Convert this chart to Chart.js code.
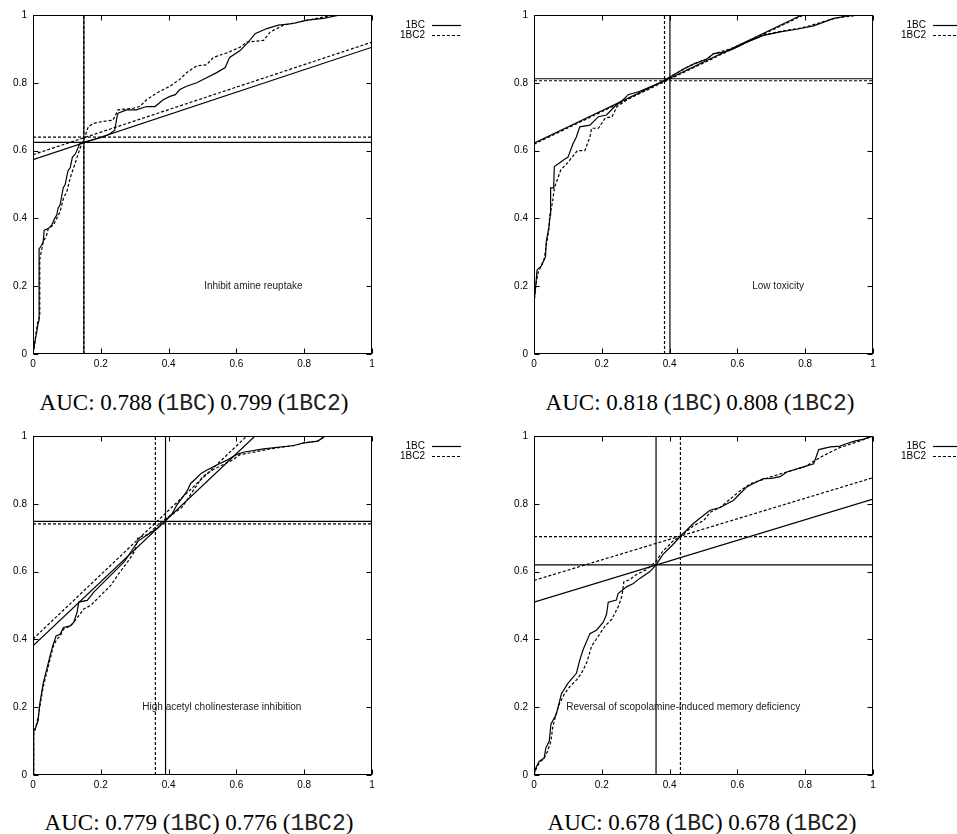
<!DOCTYPE html>
<html>
<head>
<meta charset="utf-8">
<script src="https://cdn.jsdelivr.net/npm/chart.js@4.4.1/dist/chart.umd.min.js"></script>
<style>
  html, body { margin: 0; padding: 0; background: #fff; }
  body { width: 957px; height: 834px; overflow: hidden; position: relative; }
  canvas { position: absolute; }
  .cap { position: absolute; width: 420px; text-align: center; font-family: "Liberation Serif", "Times New Roman", serif; font-size: 23px; line-height: 23px; color: #000; white-space: nowrap; }
  .cap .m { font-family: "Liberation Mono", "Courier New", monospace; color: #222; }
</style>
</head>
<body>
<canvas id="c0" width="480" height="380" style="left:0px;top:0px"></canvas>
<canvas id="c1" width="456" height="380" style="left:501px;top:0px"></canvas>
<canvas id="c2" width="480" height="380" style="left:0px;top:421px"></canvas>
<canvas id="c3" width="456" height="380" style="left:501px;top:421px"></canvas>
<div id="cap0" class="cap" style="left:-16px;top:391px"></div>
<div id="cap1" class="cap" style="left:490px;top:391px"></div>
<div id="cap2" class="cap" style="left:-11px;top:811px"></div>
<div id="cap3" class="cap" style="left:492px;top:811px"></div>
<script>
// ---------- DATA ----------
const tickValues = [0, 0.2, 0.4, 0.6, 0.8, 1];
const tickLabels = ['0', '0.2', '0.4', '0.6', '0.8', '1'];
const seriesNames = ['1BC', '1BC2'];
const panelTitles = ['Inhibit amine reuptake', 'Low toxicity', 'High acetyl cholinesterase inhibition', 'Reversal of scopolamine-induced memory deficiency'];
const aucBC  = ['0.788', '0.818', '0.779', '0.678'];
const aucBC2 = ['0.799', '0.808', '0.776', '0.678'];
const labelFpr = [0.65, 0.72, 0.557, 0.44];
const labelTpr = [0.2, 0.2, 0.2, 0.2];

// Panel 1: Inhibit amine reuptake
const p1FprBC  = [0, 0.003, 0.008, 0.012, 0.015, 0.018, 0.018, 0.025, 0.03, 0.033, 0.045, 0.055, 0.064, 0.07, 0.074, 0.08, 0.089, 0.095, 0.103, 0.11, 0.116, 0.125, 0.138, 0.15, 0.177, 0.207, 0.225, 0.241, 0.248, 0.251, 0.276, 0.305, 0.335, 0.36, 0.384, 0.404, 0.42, 0.433, 0.453, 0.483, 0.512, 0.542, 0.567, 0.58, 0.611, 0.635, 0.655, 0.69, 0.724, 0.768, 0.808, 0.857, 0.906, 1];
const p1TprBC  = [0, 0.02, 0.05, 0.07, 0.09, 0.1, 0.31, 0.32, 0.33, 0.365, 0.37, 0.38, 0.40, 0.41, 0.43, 0.44, 0.49, 0.5, 0.54, 0.55, 0.58, 0.59, 0.62, 0.625, 0.632, 0.64, 0.648, 0.66, 0.70, 0.71, 0.72, 0.72, 0.73, 0.73, 0.75, 0.76, 0.765, 0.78, 0.79, 0.80, 0.815, 0.83, 0.845, 0.875, 0.895, 0.92, 0.945, 0.96, 0.97, 0.975, 0.985, 0.99, 1, 1];
const p1FprBC2 = [0, 0.005, 0.01, 0.015, 0.02, 0.02, 0.03, 0.04, 0.045, 0.06, 0.07, 0.08, 0.09, 0.1, 0.11, 0.12, 0.13, 0.14, 0.153, 0.163, 0.177, 0.2, 0.236, 0.251, 0.296, 0.315, 0.335, 0.365, 0.385, 0.404, 0.433, 0.453, 0.483, 0.512, 0.532, 0.571, 0.611, 0.631, 0.68, 0.70, 0.739, 0.788, 0.837, 0.887, 1];
const p1TprBC2 = [0, 0.03, 0.07, 0.1, 0.11, 0.28, 0.33, 0.35, 0.37, 0.38, 0.40, 0.42, 0.46, 0.48, 0.52, 0.55, 0.58, 0.61, 0.64, 0.67, 0.68, 0.685, 0.69, 0.72, 0.725, 0.73, 0.75, 0.77, 0.78, 0.79, 0.81, 0.83, 0.85, 0.853, 0.875, 0.888, 0.905, 0.92, 0.925, 0.95, 0.97, 0.98, 0.99, 1, 1];

// Panel 2: Low toxicity
const p2FprBC  = [0, 0, 0.005, 0.009, 0.022, 0.034, 0.036, 0.044, 0.048, 0.049, 0.058, 0.06, 0.074, 0.091, 0.10, 0.115, 0.125, 0.135, 0.165, 0.19, 0.214, 0.238, 0.263, 0.278, 0.312, 0.371, 0.406, 0.44, 0.47, 0.51, 0.53, 0.559, 0.588, 0.628, 0.677, 0.726, 0.775, 0.825, 0.884, 0.923, 0.96, 1];
const p2TprBC  = [0, 0.15, 0.2, 0.248, 0.26, 0.287, 0.33, 0.375, 0.41, 0.49, 0.49, 0.553, 0.563, 0.575, 0.58, 0.62, 0.64, 0.67, 0.675, 0.70, 0.705, 0.73, 0.75, 0.765, 0.775, 0.80, 0.82, 0.84, 0.855, 0.87, 0.886, 0.89, 0.90, 0.92, 0.94, 0.95, 0.958, 0.968, 0.99, 0.997, 1, 1];
const p2FprBC2 = [0, 0, 0.005, 0.012, 0.03, 0.044, 0.046, 0.055, 0.06, 0.079, 0.1, 0.128, 0.15, 0.165, 0.17, 0.19, 0.21, 0.23, 0.245, 0.275, 0.31, 0.371, 0.406, 0.44, 0.47, 0.51, 0.53, 0.58, 0.63, 0.68, 0.73, 0.79, 0.84, 0.89, 0.93, 0.96, 1];
const p2TprBC2 = [0, 0.15, 0.2, 0.24, 0.28, 0.37, 0.405, 0.45, 0.49, 0.543, 0.565, 0.60, 0.60, 0.64, 0.666, 0.666, 0.696, 0.70, 0.73, 0.75, 0.77, 0.80, 0.82, 0.84, 0.855, 0.87, 0.886, 0.90, 0.922, 0.942, 0.952, 0.962, 0.976, 0.991, 0.996, 1, 1];

// Panel 3: High acetyl cholinesterase inhibition
const p3FprBC  = [0, 0.002, 0.002, 0.008, 0.015, 0.02, 0.03, 0.04, 0.05, 0.058, 0.068, 0.08, 0.09, 0.11, 0.12, 0.13, 0.135, 0.16, 0.18, 0.2, 0.22, 0.24, 0.27, 0.29, 0.31, 0.34, 0.37, 0.39, 0.41, 0.424, 0.453, 0.465, 0.48, 0.495, 0.512, 0.532, 0.55, 0.571, 0.6, 0.62, 0.68, 0.77, 0.80, 0.84, 0.855, 0.86, 1];
const p3TprBC  = [0, 0, 0.13, 0.14, 0.16, 0.21, 0.27, 0.31, 0.35, 0.38, 0.41, 0.415, 0.435, 0.44, 0.45, 0.48, 0.51, 0.515, 0.54, 0.56, 0.58, 0.60, 0.63, 0.66, 0.69, 0.71, 0.73, 0.75, 0.77, 0.796, 0.835, 0.86, 0.874, 0.889, 0.899, 0.909, 0.918, 0.928, 0.945, 0.952, 0.962, 0.972, 0.98, 0.985, 0.995, 1, 1];
const p3FprBC2 = [0, 0.002, 0.002, 0.008, 0.015, 0.02, 0.03, 0.04, 0.05, 0.06, 0.07, 0.08, 0.09, 0.11, 0.12, 0.135, 0.15, 0.17, 0.19, 0.21, 0.23, 0.25, 0.28, 0.30, 0.31, 0.34, 0.36, 0.39, 0.42, 0.44, 0.46, 0.48, 0.5, 0.53, 0.56, 0.59, 0.61, 0.65, 0.7, 0.77, 0.8, 0.84, 0.855, 0.86, 1];
const p3TprBC2 = [0, 0, 0.12, 0.14, 0.17, 0.20, 0.26, 0.30, 0.34, 0.38, 0.40, 0.41, 0.43, 0.44, 0.45, 0.47, 0.49, 0.50, 0.52, 0.54, 0.56, 0.59, 0.63, 0.66, 0.70, 0.71, 0.73, 0.755, 0.775, 0.79, 0.82, 0.85, 0.88, 0.90, 0.915, 0.93, 0.945, 0.952, 0.962, 0.972, 0.98, 0.985, 0.995, 1, 1];

// Panel 4: Reversal of scopolamine-induced memory deficiency
const p4FprBC  = [0, 0.005, 0.015, 0.03, 0.035, 0.045, 0.05, 0.066, 0.081, 0.1, 0.125, 0.135, 0.145, 0.165, 0.184, 0.204, 0.214, 0.219, 0.243, 0.248, 0.273, 0.293, 0.312, 0.342, 0.36, 0.38, 0.41, 0.43, 0.47, 0.519, 0.549, 0.588, 0.628, 0.647, 0.677, 0.70, 0.726, 0.746, 0.795, 0.825, 0.84, 0.874, 0.903, 0.915, 0.945, 0.97, 1];
const p4TprBC  = [0, 0.02, 0.04, 0.05, 0.08, 0.1, 0.15, 0.18, 0.24, 0.27, 0.30, 0.339, 0.37, 0.417, 0.427, 0.45, 0.474, 0.51, 0.516, 0.535, 0.555, 0.565, 0.58, 0.60, 0.62, 0.65, 0.68, 0.702, 0.742, 0.781, 0.789, 0.81, 0.85, 0.86, 0.874, 0.875, 0.88, 0.894, 0.909, 0.918, 0.96, 0.968, 0.97, 0.975, 0.985, 0.99, 1];
const p4FprBC2 = [0, 0.005, 0.015, 0.03, 0.04, 0.05, 0.055, 0.065, 0.075, 0.09, 0.105, 0.125, 0.14, 0.155, 0.17, 0.19, 0.21, 0.23, 0.25, 0.26, 0.265, 0.28, 0.3, 0.33, 0.36, 0.38, 0.41, 0.44, 0.47, 0.5, 0.52, 0.55, 0.58, 0.61, 0.64, 0.67, 0.7, 0.75, 0.8, 0.85, 0.88, 0.9, 0.93, 0.96, 1];
const p4TprBC2 = [0, 0.015, 0.035, 0.05, 0.07, 0.1, 0.14, 0.18, 0.21, 0.24, 0.26, 0.28, 0.30, 0.33, 0.38, 0.41, 0.44, 0.46, 0.50, 0.53, 0.57, 0.575, 0.59, 0.605, 0.63, 0.66, 0.69, 0.71, 0.735, 0.75, 0.775, 0.79, 0.815, 0.84, 0.86, 0.87, 0.88, 0.895, 0.91, 0.94, 0.955, 0.965, 0.975, 0.985, 1];

// Optimal operating points (vertical / horizontal guide lines)
const optFprBC  = [0.150, 0.401, 0.391, 0.360];
const optTprBC  = [0.624, 0.812, 0.748, 0.620];
const optFprBC2 = [0.150, 0.385, 0.361, 0.432];
const optTprBC2 = [0.640, 0.806, 0.741, 0.703];

// Tangent (iso-performance) lines: start at fpr=0, end point
const tanY0BC  = [0.573, 0.622, 0.381, 0.510];
const tanX1BC  = [1, 0.79, 0.655, 1];
const tanY1BC  = [0.905, 1, 1, 0.814];
const tanY0BC2 = [0.588, 0.619, 0.401, 0.574];
const tanX1BC2 = [1, 0.795, 0.631, 1];
const tanY1BC2 = [0.920, 1, 1, 0.877];

// ---------- BUILD ----------
const rocFprBC  = [p1FprBC, p2FprBC, p3FprBC, p4FprBC];
const rocTprBC  = [p1TprBC, p2TprBC, p3TprBC, p4TprBC];
const rocFprBC2 = [p1FprBC2, p2FprBC2, p3FprBC2, p4FprBC2];
const rocTprBC2 = [p1TprBC2, p2TprBC2, p3TprBC2, p4TprBC2];

const SANS = '"Liberation Sans", Arial, Helvetica, sans-serif';
const DASH = [3, 2];
const LW = 1.2;

function pts(xs, ys) { return xs.map((x, i) => ({ x: x, y: ys[i] })); }

function line(data, dashed) {
  return {
    data: data, showLine: true, fill: false, tension: 0,
    borderColor: '#000', backgroundColor: '#000',
    borderWidth: LW, borderDash: dashed ? DASH : [],
    pointRadius: 0, pointHoverRadius: 0
  };
}

const frameAndDecor = {
  id: 'frameAndDecor',
  afterDatasetsDraw(chart, args, opts) {
    const ctx = chart.ctx;
    const a = chart.chartArea;
    const xs = chart.scales.x, ys = chart.scales.y;
    ctx.save();
    ctx.strokeStyle = '#000';
    ctx.lineWidth = 1;
    ctx.setLineDash([]);
    const L = Math.round(a.left) + 0.5, R = Math.round(a.right) - 0.5;
    const T = Math.round(a.top) + 0.5, B = Math.round(a.bottom) - 0.5;
    ctx.strokeRect(L, T, R - L, B - T);
    const tl = 5;
    ctx.beginPath();
    tickValues.forEach(v => {
      const px = Math.round(xs.getPixelForValue(v)) + 0.5;
      ctx.moveTo(px, B); ctx.lineTo(px, B - tl);
      ctx.moveTo(px, T); ctx.lineTo(px, T + tl);
      const py = Math.round(ys.getPixelForValue(v)) + 0.5;
      ctx.moveTo(L, py); ctx.lineTo(L + tl, py);
      ctx.moveTo(R, py); ctx.lineTo(R - tl, py);
    });
    ctx.stroke();

    // annotation label
    const i = opts.panel;
    ctx.fillStyle = '#222';
    ctx.font = '10px ' + SANS;
    ctx.textAlign = 'center';
    ctx.textBaseline = 'middle';
    ctx.fillText(panelTitles[i], xs.getPixelForValue(labelFpr[i]), ys.getPixelForValue(labelTpr[i]));

    // key (gnuplot style: text then line sample)
    ctx.fillStyle = '#000';
    ctx.textAlign = 'right';
    seriesNames.forEach((name, k) => {
      const y = a.top + 10 + k * 10;
      ctx.fillText(name, a.right + 53, y);
      ctx.beginPath();
      ctx.lineWidth = LW;
      ctx.setLineDash(k === 0 ? [] : DASH);
      ctx.moveTo(a.right + 60, Math.round(y) + 0.5);
      ctx.lineTo(a.right + 89, Math.round(y) + 0.5);
      ctx.stroke();
    });
    ctx.restore();
  }
};

function axis(isX) {
  return {
    type: 'linear', min: 0, max: 1,
    grid: { display: false, drawTicks: false },
    border: { display: false },
    afterBuildTicks: s => { s.ticks = tickValues.map(v => ({ value: v })); },
    afterFit: s => { if (isX) s.height = 26; else s.width = 33; },
    ticks: {
      autoSkip: false, maxRotation: 0, minRotation: 0,
      padding: isX ? 4 : 6, color: '#000',
      font: { family: SANS, size: 10 },
      callback: (v, idx) => tickLabels[idx]
    }
  };
}

for (let i = 0; i < 4; i++) {
  const canvas = document.getElementById('c' + i);
  const datasets = [
    line(pts(rocFprBC[i], rocTprBC[i]), false),
    line(pts(rocFprBC2[i], rocTprBC2[i]), true),
    line([{ x: 0, y: tanY0BC[i] }, { x: tanX1BC[i], y: tanY1BC[i] }], false),
    line([{ x: 0, y: tanY0BC2[i] }, { x: tanX1BC2[i], y: tanY1BC2[i] }], true),
    line([{ x: optFprBC[i], y: 0 }, { x: optFprBC[i], y: 1 }], false),
    line([{ x: 0, y: optTprBC[i] }, { x: 1, y: optTprBC[i] }], false),
    line([{ x: optFprBC2[i], y: 0 }, { x: optFprBC2[i], y: 1 }], true),
    line([{ x: 0, y: optTprBC2[i] }, { x: 1, y: optTprBC2[i] }], true)
  ];
  new Chart(canvas, {
    type: 'scatter',
    data: { datasets: datasets },
    options: {
      responsive: false, animation: false, events: [],
      layout: { padding: { top: 15, left: 0, bottom: 0, right: canvas.width - 372 } },
      scales: { x: axis(true), y: axis(false) },
      plugins: { legend: { display: false }, tooltip: { enabled: false }, frameAndDecor: { panel: i } }
    },
    plugins: [frameAndDecor]
  });
  document.getElementById('cap' + i).innerHTML =
    'AUC: ' + aucBC[i] + ' (<span class="m">' + seriesNames[0] + '</span>) ' +
    aucBC2[i] + ' (<span class="m">' + seriesNames[1] + '</span>)';
}
</script>
</body>
</html>
